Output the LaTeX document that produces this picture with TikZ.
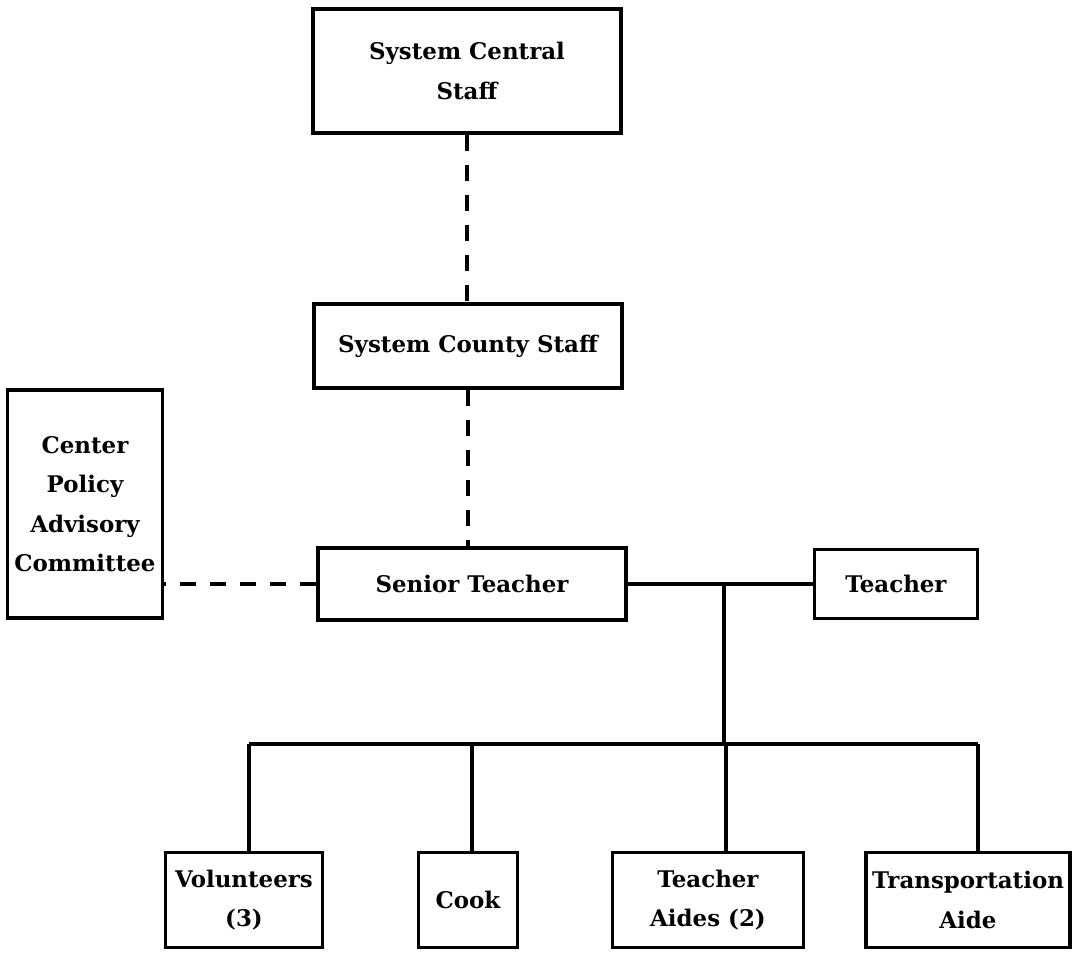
\documentclass[tikz,border=0pt]{standalone}
\usepackage{fontspec}
\setmainfont{DejaVu Serif}
\begin{document}
\begin{tikzpicture}[x=0.25mm, y=-0.25mm,
        staff/.style={draw, line width=2.6pt, align=center, inner sep=1pt,
            font=\bfseries\fontsize{16.3}{28}\selectfont},
        link/.style={line width=2.3pt},
        dotlink/.style={line width=2.3pt, dash pattern=on 4mm off 3.5mm}]
        \useasboundingbox (0,0) rectangle (1074,953);
        % upper levels
        \node[staff, minimum width=77mm, minimum height=31mm] (central) at (467,71) {System Central\\Staff};
        \node[staff, minimum width=77mm, minimum height=21mm] (county) at (468,346) {System County Staff};
        \node[staff, minimum width=77mm, minimum height=18mm] (senior) at (472,584) {Senior Teacher};
        \node[staff, minimum width=38.75mm, minimum height=57mm] (committee) at (85,504) {Center\\Policy\\Advisory\\Committee};
        \node[staff, minimum width=40.75mm, minimum height=17.25mm] (teacher) at (896,584) {Teacher};
        % bottom row
        \node[staff, minimum width=39.25mm, minimum height=23.75mm] (vol) at (244,900) {Volunteers\\(3)};
        \node[staff, minimum width=24.75mm, minimum height=23.75mm] (cook) at (468,900) {Cook};
        \node[staff, minimum width=47.75mm, minimum height=23.75mm] (aides) at (708,900) {Teacher\\Aides (2)};
        \node[staff, minimum width=51mm, minimum height=23.75mm] (transp) at (968,900) {Transportation\\Aide};
        % dashed lines of advice
        \draw[dotlink] (central.south) -- (central.south |- county.north);
        \draw[dotlink] (county.south) -- (county.south |- senior.north);
        \draw[dotlink] (senior.west) -- (senior.west -| committee.east);
        % senior teacher to teacher
        \draw[link] (senior.east) -- (senior.east -| teacher.west);
        % trunk down to the bar
        \coordinate (split) at (724,584);
        \coordinate (hub) at (724,744);
        \draw[link] (split) -- (hub);
        \coordinate (volbar) at (249,744);
        \coordinate (cookbar) at (472,744);
        \coordinate (aidesbar) at (726,744);
        \coordinate (transpbar) at (978,744);
        \draw[link] (volbar) -- (transpbar);
        % drops to the bottom row
        \draw[link] (volbar) -- (volbar |- vol.north);
        \draw[link] (cookbar) -- (cookbar |- cook.north);
        \draw[link] (aidesbar) -- (aidesbar |- aides.north);
        \draw[link] (transpbar) -- (transpbar |- transp.north);
    \end{tikzpicture}
\end{document}
